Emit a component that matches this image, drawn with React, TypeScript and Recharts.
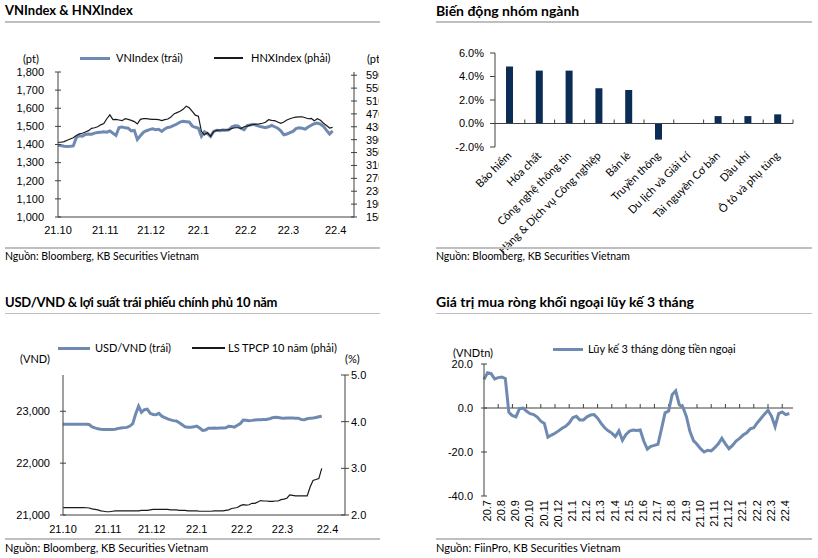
import React from "react";
import { LineChart, Line, BarChart, Bar, XAxis, YAxis, ReferenceLine } from "recharts";

// VNIndex (left axis) and HNXIndex (right axis), one reading every 2 days from 1 Oct 2021
const vnIndex = [
  1396, 1394, 1390, 1389, 1390, 1392, 1438, 1448, 1446, 1455, 1458, 1457, 1463, 1466, 1468, 1470,
  1468, 1475, 1462, 1450, 1494, 1497, 1492, 1490, 1475, 1478, 1428, 1448, 1468, 1476, 1482, 1486,
  1482, 1484, 1472, 1486, 1494, 1497, 1506, 1513, 1524, 1528, 1526, 1524, 1502, 1495, 1490, 1445,
  1470, 1460, 1445, 1472, 1478, 1476, 1480, 1479, 1481, 1498, 1503, 1502, 1488, 1482, 1504, 1508,
  1512, 1506, 1500, 1497, 1493, 1498, 1506, 1498, 1490, 1476, 1454, 1458, 1466, 1472, 1488, 1492,
  1490, 1485, 1497, 1506, 1515, 1518, 1512, 1500, 1478, 1458, 1475,
];
const hnxIndex = [
  382, 382, 384, 388, 392, 396, 403, 408, 410, 414, 418, 425, 427, 430, 436, 440,
  455, 467, 452, 453, 451, 449, 455, 453, 450, 446, 439, 453, 455, 455, 454, 453,
  453, 452, 449, 452, 454, 460, 470, 474, 478, 484, 494, 489, 478, 466, 463, 416,
  405, 412, 400, 415, 419, 420, 420, 420, 421, 425, 427, 427, 425, 430, 432, 435,
  437, 438, 439, 441, 444, 452, 450, 449, 445, 441, 445, 451, 455, 458, 460, 461,
  461, 458, 455, 456, 449, 455, 450, 441, 434, 426, 428,
];
const monthTicks = [0, 31, 61, 92, 123, 151, 182];
const monthLabels = ["21.10", "21.11", "21.12", "22.1", "22.2", "22.3", "22.4"];

// sector performance (%)
const sectorNames = [
  "Bảo hiểm", "Hóa chất", "Công nghệ thông tin", "Hàng & Dịch vụ Công nghiệp", "Bán lẻ",
  "Truyền thông", "Du lịch và Giải trí", "Tài nguyên Cơ bản", "Dầu khí", "Ô tô và phụ tùng",
];
const sectorChange = [4.85, 4.5, 4.5, 3.0, 2.85, -1.37, 0.0, 0.63, 0.63, 0.78];

// USD/VND (left) and 10y government bond yield (right), every 2 days from 1 Oct 2021
const usdVnd = [
  22750, 22750, 22752, 22750, 22752, 22750, 22750, 22752, 22750, 22745, 22700, 22680, 22662, 22655, 22650, 22648,
  22650, 22648, 22655, 22670, 22680, 22685, 22690, 22715, 22760, 22950, 23100, 22980, 23030, 23040, 22960, 22940,
  22935, 22960, 22905, 22880, 22855, 22835, 22820, 22815, 22780, 22740, 22700, 22694, 22694, 22700, 22714, 22680,
  22630, 22640, 22672, 22675, 22676, 22675, 22678, 22676, 22680, 22712, 22708, 22695, 22730, 22765, 22830, 22828,
  22820, 22825, 22832, 22836, 22838, 22840, 22842, 22855, 22875, 22885, 22882, 22870, 22866, 22870, 22872, 22870,
  22868, 22866, 22840, 22838, 22855, 22868, 22872, 22880, 22895, 22905,
];
const bondYield = [
  2.16, 2.16, 2.16, 2.16, 2.16, 2.16, 2.16, 2.16, 2.155, 2.15, 2.13, 2.12, 2.11, 2.09, 2.08, 2.07,
  2.07, 2.08, 2.09, 2.09, 2.09, 2.09, 2.09, 2.09, 2.09, 2.09, 2.09, 2.1, 2.1, 2.1, 2.11, 2.12,
  2.12, 2.12, 2.12, 2.12, 2.12, 2.11, 2.11, 2.11, 2.1, 2.1, 2.1, 2.09, 2.09, 2.09, 2.09, 2.08,
  2.08, 2.08, 2.08, 2.08, 2.09, 2.09, 2.09, 2.09, 2.1, 2.11, 2.14, 2.15, 2.16, 2.2, 2.22, 2.21,
  2.22, 2.25, 2.25, 2.28, 2.31, 2.3, 2.3, 2.29, 2.29, 2.3, 2.3, 2.33, 2.34, 2.36, 2.43, 2.42,
  2.41, 2.41, 2.41, 2.41, 2.41, 2.6, 2.74, 2.76, 2.78, 3.0,
];

// foreign net buying, 3-month cumulative (VND tn), every quarter month from Jul 2020
const flowMonthLabels = [
  "20.7", "20.8", "20.9", "20.10", "20.11", "20.12", "21.1", "21.2", "21.3", "21.4", "21.5",
  "21.6", "21.7", "21.8", "21.9", "21.10", "21.11", "21.12", "22.1", "22.2", "22.3", "22.4",
];
const foreignFlow = [
  13, 16, 15.6, 13.2, 13.8, 14.1, 13.4, -2, -3.5, -4, -0.3, 0, -1.5, -2.6, -3.0, -4.1,
  -6.0, -7.0, -13.3, -12.3, -11.5, -10.4, -9.2, -8.3, -6.8, -4.4, -3.8, -5.4, -5.4, -4.0, -3.2, -3.0,
  -4.6, -7.0, -9.0, -10.4, -11.4, -13.0, -10.4, -14.7, -12.0, -10.5, -10.0, -10.2, -10.0, -15.0, -18.7, -17.4,
  -17.0, -16.5, -9.5, -2.2, -1.4, 6.0, 7.8, 1.5, 0.5, -3.8, -10.6, -14.8, -16.5, -18.5, -20.0, -19.2,
  -19.5, -18, -16.3, -13.8, -16.3, -18.5, -17, -15, -13.8, -12.3, -11.3, -9.5, -9.0, -6.7, -4.8, -2.8,
  -1.0, -3.8, -8.5, -2.5, -1.8, -3.0, -2.5,
];

const BLUE = "#6f8ab0";
const NAVY = "#0b2c55";
const AXIS = "#404040";
const RULE = "#bfbfbf";
const TICK_FONT = "'Liberation Sans', Arial, sans-serif";
const TEXT_FONT = "Lato, 'Noto Sans', sans-serif";
const INDEX_X_MAX = 194;
const FLOW_X_MAX = 21.76;

const indexData = vnIndex.map((v, i) => ({ day: i * 2, vn: v, hnx: hnxIndex[i] }));
const fxData = usdVnd.map((v, i) => ({ day: i * 2, fx: v, bond: bondYield[i] }));
const sectorData = sectorNames.map((name, i) => ({ name, value: sectorChange[i] }));
const flowData = foreignFlow.map((v, i) => ({ m: i * 0.25, flow: v }));

const tickStyle = { fontSize: 11, fill: "#000", fontFamily: TICK_FONT };

// y tick with a short mark crossing the axis line
function crossTick(side: "left" | "right", gap: number, fmt: (v: number) => string, half = 3) {
  return (p: any) => {
    const ax = side === "left" ? p.x + gap : p.x - gap;
    return (
      <g>
        <line x1={ax - half} x2={ax + half} y1={p.y} y2={p.y} stroke={AXIS} />
        <text x={p.x} y={p.y} dy="0.35em" textAnchor={side === "left" ? "end" : "start"} {...tickStyle}>
          {fmt(p.payload.value)}
        </text>
      </g>
    );
  };
}

const Txt = ({ x, y, size = 11, bold = false, spacing = 0, children }: any) => (
  <div
    style={{
      position: "absolute", left: x, top: y, fontSize: size, fontWeight: bold ? 700 : 400,
      fontFamily: TEXT_FONT, lineHeight: 1, whiteSpace: "nowrap", color: "#000", letterSpacing: spacing,
    }}
  >
    {children}
  </div>
);

const Rule = ({ x, y, w, h = 2 }: any) => (
  <div style={{ position: "absolute", left: x, top: y, width: w, height: h, background: RULE }} />
);

const Swatch = ({ x, y, w, h, color }: any) => (
  <div style={{ position: "absolute", left: x, top: y - h / 2, width: w, height: h, background: color }} />
);

const monthFmt = (v: number) => monthLabels[monthTicks.indexOf(v)] ?? "";

function IndexChart() {
  return (
    <div style={{ position: "absolute", left: 0, top: 0, width: 379, height: 270, overflow: "hidden" }}>
      <LineChart width={410} height={240} data={indexData} margin={{ top: 72, right: 16, bottom: 0, left: 0 }}>
        <XAxis
          dataKey="day" type="number" domain={[0, INDEX_X_MAX]} ticks={monthTicks} tickFormatter={monthFmt}
          interval={0} tickLine={false} tickSize={0} tickMargin={9} height={23} stroke={AXIS} tick={tickStyle}
        />
        <YAxis
          yAxisId="left" domain={[1000, 1800]} ticks={[1000, 1100, 1200, 1300, 1400, 1500, 1600, 1700, 1800]}
          interval={0} width={58} tickLine={false} tickSize={0} tickMargin={14} stroke={AXIS}
          tick={crossTick("left", 14, (v) => v.toLocaleString("en-US"))}
        />
        <YAxis
          yAxisId="right" orientation="right" domain={[150, 600]}
          ticks={[150, 190, 230, 270, 310, 350, 390, 430, 470, 510, 550, 590]}
          interval={0} width={40} tickLine={false} tickSize={0} tickMargin={12} stroke={AXIS}
          tick={crossTick("right", 12, (v) => String(v))}
        />
        <Line yAxisId="left" dataKey="vn" stroke={BLUE} strokeWidth={3} dot={false} isAnimationActive={false} />
        <Line yAxisId="right" dataKey="hnx" stroke="#1a1a1a" strokeWidth={1.2} dot={false} isAnimationActive={false} />
      </LineChart>
      <Swatch x={80} y={58} w={30} h={3} color={BLUE} />
      <Txt x={116} y={52}>VNIndex (trái)</Txt>
      <Swatch x={214} y={58} w={29} h={1.3} color="#1a1a1a" />
      <Txt x={251} y={52}>HNXIndex (phải)</Txt>
      <Txt x={23} y={53}>(pt)</Txt>
      <Txt x={367} y={53}>(pt)</Txt>
    </div>
  );
}

function zeroAxis(marks: number[], max: number) {
  return (p: any) => {
    const { x1, x2, y1 } = p;
    return (
      <g>
        <line x1={x1} x2={x2} y1={y1} y2={y1} stroke={AXIS} />
        {marks.map((m) => {
          const x = x1 + (m / max) * (x2 - x1);
          return <line key={m} x1={x} x2={x} y1={y1 - 4} y2={y1} stroke={AXIS} />;
        })}
      </g>
    );
  };
}

const SectorTick = (p: any) => (
  <text
    x={p.x} y={p.y} dy="0.3em" textAnchor="end" transform={`rotate(-45, ${p.x}, ${p.y})`}
    fontSize={11} fontFamily={TEXT_FONT} fill="#000"
  >
    {p.payload.value}
  </text>
);

function SectorChart() {
  return (
    <div style={{ position: "absolute", left: 410, top: 0 }}>
      <BarChart width={408} height={270} data={sectorData} margin={{ top: 53, right: 25, bottom: 0, left: 0 }}>
        <XAxis
          dataKey="name" interval={0} axisLine={false} tickLine={false} tickSize={0} tickMargin={7}
          height={123} tick={SectorTick}
        />
        <YAxis
          domain={[-2, 6]} ticks={[-2, 0, 2, 4, 6]} interval={0} width={85} tickSize={5} tickMargin={6}
          stroke={AXIS} tick={tickStyle} tickFormatter={(v: number) => v.toFixed(1) + "%"}
        />
        <Bar dataKey="value" fill={NAVY} barSize={7} isAnimationActive={false} />
        <ReferenceLine
          y={0} stroke={AXIS}
          shape={zeroAxis(sectorNames.map((_, i) => i + 1), sectorNames.length)}
        />
      </BarChart>
    </div>
  );
}

function FxChart() {
  return (
    <div style={{ position: "absolute", left: 0, top: 280 }}>
      <LineChart width={410} height={270} data={fxData} margin={{ top: 95, right: 25, bottom: 0, left: 0 }}>
        <XAxis
          dataKey="day" type="number" domain={[0, INDEX_X_MAX]} ticks={monthTicks} tickFormatter={monthFmt}
          interval={0} tickLine={false} tickSize={0} tickMargin={10} height={35} stroke={AXIS} tick={tickStyle}
        />
        <YAxis
          yAxisId="left" domain={[21000, 23700]} ticks={[21000, 22000, 23000]} interval={0} width={63}
          tickLine={false} tickSize={0} tickMargin={13} stroke={AXIS}
          tick={crossTick("left", 13, (v) => v.toLocaleString("en-US"))}
        />
        <YAxis
          yAxisId="right" orientation="right" domain={[2, 5]} ticks={[2, 3, 4, 5]} interval={0} width={40}
          tickLine={false} tickSize={0} tickMargin={6} stroke={AXIS}
          tick={crossTick("right", 6, (v) => v.toFixed(1), 4)}
        />
        <Line yAxisId="left" dataKey="fx" stroke={BLUE} strokeWidth={3} dot={false} isAnimationActive={false} />
        <Line yAxisId="right" dataKey="bond" stroke="#1a1a1a" strokeWidth={1.2} dot={false} isAnimationActive={false} />
      </LineChart>
    </div>
  );
}

const FlowTick = (p: any) => (
  <text
    x={p.x} y={p.y} dy="0.62em" textAnchor="end" transform={`rotate(-90, ${p.x}, ${p.y})`} {...tickStyle}
  >
    {flowMonthLabels[p.payload.value]}
  </text>
);

function FlowChart() {
  return (
    <div style={{ position: "absolute", left: 410, top: 280 }}>
      <LineChart width={408} height={270} data={flowData} margin={{ top: 84, right: 25, bottom: 0, left: 0 }}>
        <XAxis
          dataKey="m" type="number" domain={[0, FLOW_X_MAX]} ticks={flowMonthLabels.map((_, i) => i)}
          interval={0} axisLine={false} tickLine={false} tickSize={0} tickMargin={4} height={54} tick={FlowTick}
        />
        <YAxis
          domain={[-40, 20]} ticks={[-40, -20, 0, 20]} interval={0} width={74} tickLine={false} tickSize={0}
          tickMargin={11} stroke={AXIS} tick={crossTick("left", 11, (v) => v.toFixed(1))}
        />
        <ReferenceLine
          y={0} stroke={AXIS}
          shape={zeroAxis(flowMonthLabels.map((_, i) => i).slice(1), FLOW_X_MAX)}
        />
        <Line dataKey="flow" stroke={BLUE} strokeWidth={3} dot={false} isAnimationActive={false} />
      </LineChart>
    </div>
  );
}

export default function App() {
  return (
    <div style={{ position: "absolute", left: 0, top: 0, width: 818, height: 558, background: "#fff", overflow: "hidden" }}>
      <Txt x={5} y={4.3} size={13} bold>VNIndex &amp; HNXIndex</Txt>
      <Rule x={5} y={21} w={375} />
      <IndexChart />
      <Rule x={5} y={247} w={375} />
      <Txt x={5} y={250.5} size={10.5}>Nguồn: Bloomberg, KB Securities Vietnam</Txt>

      <Txt x={436} y={3.6} size={14} bold>Biến động nhóm ngành</Txt>
      <Rule x={436} y={21} w={376} />
      <SectorChart />
      <Rule x={436} y={247} w={376} />
      <Txt x={436} y={250.5} size={10.5}>Nguồn: Bloomberg, KB Securities Vietnam</Txt>

      <Txt x={5} y={295.5} size={13} bold spacing={-0.25}>USD/VND &amp; lợi suất trái phiếu chính phủ 10 năm</Txt>
      <Rule x={5} y={313} w={375} h={1} />
      <FxChart />
      <Swatch x={58} y={348} w={32} h={3} color={BLUE} />
      <Txt x={95} y={342}>USD/VND (trái)</Txt>
      <Swatch x={192} y={348} w={33} h={1.3} color="#1a1a1a" />
      <Txt x={228} y={342}>LS TPCP 10 năm (phải)</Txt>
      <Txt x={20} y={353}>(VND)</Txt>
      <Txt x={345} y={353}>(%)</Txt>
      <Rule x={5} y={538} w={375} />
      <Txt x={5} y={542}>Nguồn: Bloomberg, KB Securities Vietnam</Txt>

      <Txt x={436} y={294.5} size={14} bold>Giá trị mua ròng khối ngoại lũy kế 3 tháng</Txt>
      <Rule x={436} y={313} w={376} h={1} />
      <FlowChart />
      <Swatch x={553} y={349} w={30} h={3} color={BLUE} />
      <Txt x={588} y={343}>Lũy kế 3 tháng dòng tiền ngoại</Txt>
      <Txt x={453} y={347}>(VNDtn)</Txt>
      <Rule x={436} y={538} w={376} />
      <Txt x={436} y={542}>Nguồn: FiinPro, KB Securities Vietnam</Txt>
    </div>
  );
}
